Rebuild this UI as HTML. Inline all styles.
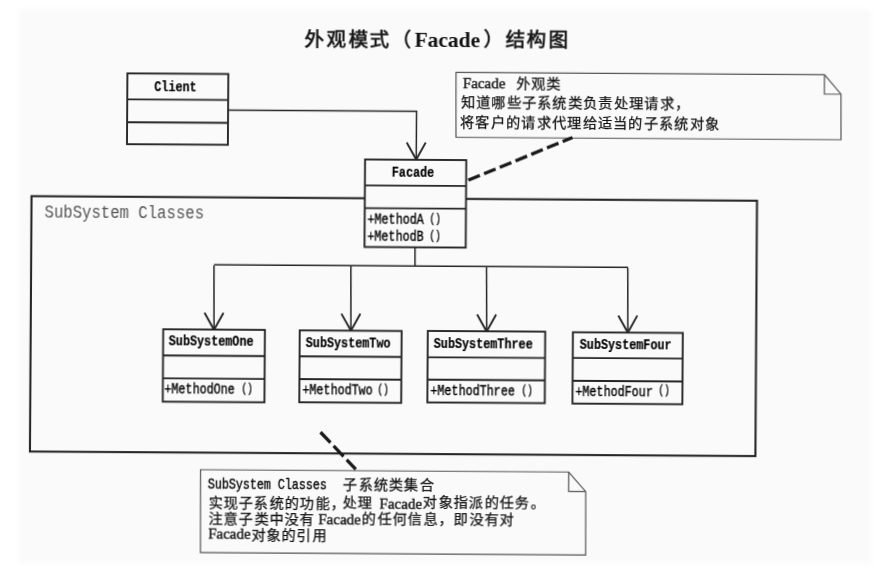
<!DOCTYPE html>
<html lang="zh-CN"><head><meta charset="utf-8">
<style>
html,body{margin:0;padding:0;}
body{width:893px;height:588px;background:#fff;position:relative;overflow:hidden;}
#w{position:absolute;left:0;top:0;width:893px;height:588px;transform:rotate(0.361deg);filter:blur(0.65px);transform-origin:446px 294px;}
svg{position:absolute;left:0;top:0;}
.t{position:absolute;white-space:pre;line-height:1;transform-origin:0 0;}
.lat{font-family:"Liberation Serif",serif;font-size:14.5px;}
.m{font-family:"Liberation Mono",monospace;font-size:14.4px;display:inline-block;transform:scaleX(0.81);transform-origin:0 0;margin-right:-27.5px;}
</style></head><body>
<div style="position:absolute;left:19px;top:10px;width:852px;height:553px;background:#fafafa;filter:blur(2px);"></div>
<div id="w">
<svg width="893" height="588" viewBox="0 0 893 588">
<rect x="126.04" y="75.39" width="100.9" height="70.8" fill="#fafafa" stroke="#262626" stroke-width="1.9"/>
<line x1="126.04" y1="101.39" x2="226.94" y2="101.39" stroke="#262626" stroke-width="1.9"/>
<line x1="126.04" y1="124.19" x2="226.94" y2="124.19" stroke="#262626" stroke-width="1.9"/>
<polyline points="226.94,111.47 415.45,111.49 415.35,159.69" fill="none" stroke="#262626" stroke-width="1.5" />
<polyline points="405.75,142.75 415.35,159.69 424.75,142.63" fill="none" stroke="#262626" stroke-width="1.9" stroke-linejoin="miter"/>
<rect x="30.94" y="198.78" width="725.48" height="255.36" fill="none" stroke="#262626" stroke-width="2.1"/>
<rect x="364.23" y="159.99" width="101.2" height="87.5" fill="#fafafa" stroke="#262626" stroke-width="1.9"/>
<line x1="364.23" y1="185.89" x2="465.43" y2="185.89" stroke="#262626" stroke-width="1.9"/>
<line x1="364.23" y1="208.59" x2="465.43" y2="208.59" stroke="#262626" stroke-width="1.9"/>
<polyline points="414.71,247.5 414.82,266.2" fill="none" stroke="#262626" stroke-width="1.5" />
<polyline points="213.82,266.26 628.03,266.25" fill="none" stroke="#262626" stroke-width="1.5" />
<polyline points="213.82,266.96 214.23,331.26" fill="none" stroke="#262626" stroke-width="1.5" />
<polyline points="204.62,314.32 214.23,331.26 223.62,314.2" fill="none" stroke="#262626" stroke-width="1.9" stroke-linejoin="miter"/>
<polyline points="350.73,266.96 351.13,331.3" fill="none" stroke="#262626" stroke-width="1.5" />
<polyline points="341.52,314.36 351.13,331.3 360.52,314.24" fill="none" stroke="#262626" stroke-width="1.9" stroke-linejoin="miter"/>
<polyline points="486.43,266.96 486.84,331.24" fill="none" stroke="#262626" stroke-width="1.5" />
<polyline points="477.23,314.3 486.84,331.24 496.23,314.18" fill="none" stroke="#262626" stroke-width="1.9" stroke-linejoin="miter"/>
<polyline points="627.64,266.96 628.04,331.45" fill="none" stroke="#262626" stroke-width="1.5" />
<polyline points="618.44,314.51 628.04,331.45 637.44,314.39" fill="none" stroke="#262626" stroke-width="1.9" stroke-linejoin="miter"/>
<rect x="163.45" y="331.06" width="101.7" height="72.4" fill="#fafafa" stroke="#262626" stroke-width="1.9"/>
<line x1="163.45" y1="357.26" x2="265.15" y2="357.26" stroke="#262626" stroke-width="1.9"/>
<line x1="163.45" y1="380.16" x2="265.15" y2="380.16" stroke="#262626" stroke-width="1.9"/>
<rect x="299.96" y="331.3" width="101.9" height="71.9" fill="#fafafa" stroke="#262626" stroke-width="1.9"/>
<line x1="299.96" y1="357.3" x2="401.86" y2="357.3" stroke="#262626" stroke-width="1.9"/>
<line x1="299.96" y1="380" x2="401.86" y2="380" stroke="#262626" stroke-width="1.9"/>
<rect x="428.06" y="331.05" width="117.4" height="71.5" fill="#fafafa" stroke="#262626" stroke-width="1.9"/>
<line x1="428.06" y1="357.35" x2="545.46" y2="357.35" stroke="#262626" stroke-width="1.9"/>
<line x1="428.06" y1="379.75" x2="545.46" y2="379.75" stroke="#262626" stroke-width="1.9"/>
<rect x="573.17" y="331.46" width="109.9" height="71.3" fill="#fafafa" stroke="#262626" stroke-width="1.9"/>
<line x1="573.17" y1="357.16" x2="683.07" y2="357.16" stroke="#262626" stroke-width="1.9"/>
<line x1="573.17" y1="380.06" x2="683.07" y2="380.06" stroke="#262626" stroke-width="1.9"/>
<polygon points="454.6,72.34 823.12,72.34 839.74,91.73 840.03,137.24 455.01,137.24" fill="#fafafa" stroke="#555" stroke-width="1.2"/>
<polyline points="823.12,72.34 823.12,91.73 839.74,91.73" fill="none" stroke="#555" stroke-width="1.2"/>
<polygon points="201.61,471.25 569.82,471.25 586.94,490.64 587.34,554.15 202.13,554.15" fill="#fafafa" stroke="#555" stroke-width="1.2"/>
<polyline points="569.82,471.25 569.82,490.64 586.94,490.64" fill="none" stroke="#555" stroke-width="1.2"/>
<polyline points="467.58,180.06 571.51,136.7" fill="none" stroke="#1a1a1a" stroke-width="3.3" stroke-dasharray="12.5 4.5"/>
<polyline points="321.37,432.99 356.91,469.97" fill="none" stroke="#1a1a1a" stroke-width="3.3" stroke-dasharray="14.5 4.5"/>
</svg>
<div class="t" style="left:153.13px;top:81.99px;font-family:'Liberation Mono';font-weight:bold;font-size:15.5px;color:#000;transform:scaleX(0.76);-webkit-text-stroke:0.2px #000;">Client</div>
<div class="t" style="left:391.47px;top:166.39px;font-family:'Liberation Mono';font-weight:bold;font-size:15.5px;color:#000;transform:scaleX(0.76);-webkit-text-stroke:0.2px #000;">Facade</div>
<div class="t" style="left:366.69px;top:213.35px;font-family:'Liberation Mono';font-weight:normal;font-size:14.4px;color:#000;transform:scaleX(0.815);-webkit-text-stroke:0.35px #000;">+MethodA</div>
<div class="t" style="left:428.66px;top:213.44px;font-family:'Liberation Mono';font-weight:normal;font-size:12px;color:#000;transform:scaleX(0.8);-webkit-text-stroke:0.3px #000;">()</div>
<div class="t" style="left:366.8px;top:230.3px;font-family:'Liberation Mono';font-weight:normal;font-size:14.4px;color:#000;transform:scaleX(0.815);-webkit-text-stroke:0.35px #000;">+MethodB</div>
<div class="t" style="left:428.77px;top:230.39px;font-family:'Liberation Mono';font-weight:normal;font-size:12px;color:#000;transform:scaleX(0.8);-webkit-text-stroke:0.3px #000;">()</div>
<div class="t" style="left:168.53px;top:335.8px;font-family:'Liberation Mono';font-weight:bold;font-size:15.5px;color:#000;transform:scaleX(0.76);-webkit-text-stroke:0.2px #000;">SubSystemOne</div>
<div class="t" style="left:165.16px;top:384.23px;font-family:'Liberation Mono';font-weight:normal;font-size:14.4px;color:#000;transform:scaleX(0.815);-webkit-text-stroke:0.35px #000;">+MethodOne</div>
<div class="t" style="left:242.33px;top:384.22px;font-family:'Liberation Mono';font-weight:normal;font-size:12px;color:#000;transform:scaleX(0.8);-webkit-text-stroke:0.3px #000;">()</div>
<div class="t" style="left:306.14px;top:336.63px;font-family:'Liberation Mono';font-weight:bold;font-size:15.5px;color:#000;transform:scaleX(0.76);-webkit-text-stroke:0.2px #000;">SubSystemTwo</div>
<div class="t" style="left:302.86px;top:383.76px;font-family:'Liberation Mono';font-weight:normal;font-size:14.4px;color:#000;transform:scaleX(0.815);-webkit-text-stroke:0.35px #000;">+MethodTwo</div>
<div class="t" style="left:378.23px;top:383.76px;font-family:'Liberation Mono';font-weight:normal;font-size:12px;color:#000;transform:scaleX(0.8);-webkit-text-stroke:0.3px #000;">()</div>
<div class="t" style="left:433.84px;top:336.53px;font-family:'Liberation Mono';font-weight:bold;font-size:15.5px;color:#000;transform:scaleX(0.76);-webkit-text-stroke:0.2px #000;">SubSystemThree</div>
<div class="t" style="left:430.57px;top:384.46px;font-family:'Liberation Mono';font-weight:normal;font-size:14.4px;color:#000;transform:scaleX(0.815);-webkit-text-stroke:0.35px #000;">+MethodThree</div>
<div class="t" style="left:521.64px;top:384.36px;font-family:'Liberation Mono';font-weight:normal;font-size:12px;color:#000;transform:scaleX(0.8);-webkit-text-stroke:0.3px #000;">()</div>
<div class="t" style="left:579.55px;top:336.81px;font-family:'Liberation Mono';font-weight:bold;font-size:15.5px;color:#000;transform:scaleX(0.76);-webkit-text-stroke:0.2px #000;">SubSystemFour</div>
<div class="t" style="left:575.87px;top:383.54px;font-family:'Liberation Mono';font-weight:normal;font-size:14.4px;color:#000;transform:scaleX(0.815);-webkit-text-stroke:0.35px #000;">+MethodFour</div>
<div class="t" style="left:659.34px;top:383.49px;font-family:'Liberation Mono';font-weight:normal;font-size:12px;color:#000;transform:scaleX(0.8);-webkit-text-stroke:0.3px #000;">()</div>
<div class="t" style="left:43.51px;top:206.77px;font-family:'Liberation Mono';font-weight:normal;font-size:18.6px;color:#555;transform:scaleX(0.841);">SubSystem Classes</div>
<div class="t" style="left:303px;top:31.44px;font-family:'Liberation Sans';font-weight:bold;font-size:19.5px;color:#1a1a1a;letter-spacing:1.8px;">外观模式（</div>
<div class="t" style="left:412.93px;top:29.73px;font-family:'Liberation Serif';font-weight:bold;font-size:21.5px;color:#111;">Facade</div>
<div class="t" style="left:481.9px;top:30.31px;font-family:'Liberation Sans';font-weight:bold;font-size:19.5px;color:#1a1a1a;letter-spacing:1.8px;">）结构图</div>
<div class="t" style="left:461.59px;top:75.99px;font-family:'Liberation Serif';font-weight:normal;font-size:15px;color:#111;-webkit-text-stroke:0.4px #111;">Facade</div>
<div class="t" style="left:514.58px;top:76.26px;font-family:'Liberation Serif';font-weight:500;font-size:14.2px;color:#111;letter-spacing:1.3px;-webkit-text-stroke:0.25px #111;">外观类</div>
<div class="t" style="left:459.69px;top:95.41px;font-family:'Liberation Serif';font-weight:500;font-size:14.2px;color:#111;letter-spacing:1.3px;-webkit-text-stroke:0.25px #111;">知道哪些子系统类负责处理请求，</div>
<div class="t" style="left:459.12px;top:114.96px;font-family:'Liberation Serif';font-weight:500;font-size:14.2px;color:#111;letter-spacing:1.3px;-webkit-text-stroke:0.25px #111;">将客户的请求代理给适当的子系统对象</div>
<div class="t" style="left:209.07px;top:479.46px;font-family:'Liberation Mono';font-weight:normal;font-size:14.4px;color:#111;transform:scaleX(0.81);-webkit-text-stroke:0.45px #111;">SubSystem Classes</div>
<div class="t" style="left:344.3px;top:477.55px;font-family:'Liberation Serif';font-weight:500;font-size:14.2px;color:#111;letter-spacing:1.3px;-webkit-text-stroke:0.25px #111;">子系统类集合</div>
<div class="t" style="left:209.51px;top:496.7px;font-family:'Liberation Serif';font-weight:500;font-size:14.2px;color:#111;letter-spacing:1.3px;-webkit-text-stroke:0.25px #111;">实现子系统的功能，</div>
<div class="t" style="left:344.11px;top:495.85px;font-family:'Liberation Serif';font-weight:500;font-size:14.2px;color:#111;letter-spacing:1.3px;-webkit-text-stroke:0.25px #111;">处理</div>
<div class="t" style="left:380.84px;top:496.92px;font-family:'Liberation Serif';font-weight:normal;font-size:15px;color:#111;-webkit-text-stroke:0.4px #111;">Facade</div>
<div class="t" style="left:424.41px;top:495.34px;font-family:'Liberation Serif';font-weight:500;font-size:14.2px;color:#111;letter-spacing:1.3px;-webkit-text-stroke:0.25px #111;">对象指派的任务。</div>
<div class="t" style="left:209.62px;top:513.2px;font-family:'Liberation Serif';font-weight:500;font-size:14.2px;color:#111;letter-spacing:1.3px;-webkit-text-stroke:0.25px #111;">注意子类中没有</div>
<div class="t" style="left:319.74px;top:513.1px;font-family:'Liberation Serif';font-weight:normal;font-size:15px;color:#111;-webkit-text-stroke:0.4px #111;">Facade</div>
<div class="t" style="left:363.42px;top:512.23px;font-family:'Liberation Serif';font-weight:500;font-size:14.2px;color:#111;letter-spacing:1.3px;-webkit-text-stroke:0.25px #111;">的任何信息，即没有对</div>
<div class="t" style="left:209.63px;top:527.8px;font-family:'Liberation Serif';font-weight:normal;font-size:15px;color:#111;-webkit-text-stroke:0.4px #111;">Facade</div>
<div class="t" style="left:252.52px;top:529.03px;font-family:'Liberation Serif';font-weight:500;font-size:14.2px;color:#111;letter-spacing:1.3px;-webkit-text-stroke:0.25px #111;">对象的引用</div>
</div>
</body></html>
